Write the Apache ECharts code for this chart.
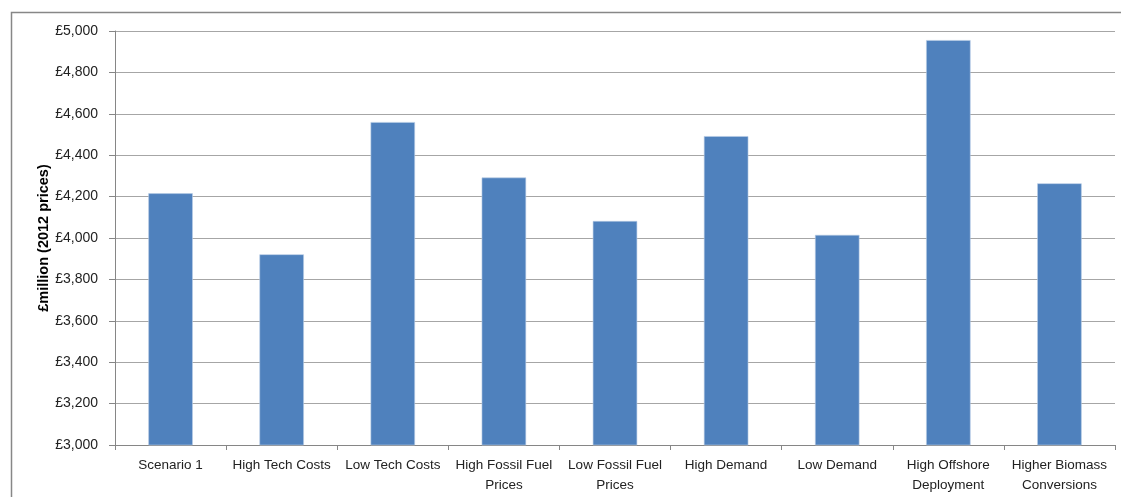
<!DOCTYPE html>
<html>
<head>
<meta charset="utf-8">
<script src="https://cdn.jsdelivr.net/npm/echarts@6/dist/echarts.min.js"></script>
<style>
html,body{margin:0;padding:0;background:#fff;}
#c{width:1121px;height:497px;}
</style>
</head>
<body>
<div id="c"></div>
<script>
var categories = ['Scenario 1','High Tech Costs','Low Tech Costs','High Fossil Fuel\nPrices','Low Fossil Fuel\nPrices','High Demand','Low Demand','High Offshore\nDeployment','Higher Biomass\nConversions'];
var values = [4216, 3921, 4560, 4292, 4082, 4492, 4015, 4956, 4264];
var yTitle = '£million (2012 prices)';

var chart = echarts.init(document.getElementById('c'));
var font = 'Liberation Sans, Arial, sans-serif';
chart.setOption({
  animation: false,
  backgroundColor: '#fff',
  graphic: [{
    type: 'rect', shape: {x: 11.5, y: 12.5, width: 1120, height: 500},
    style: {fill: 'none', stroke: '#878787', lineWidth: 1.5}
  }],
  grid: {left: 115, right: 6, top: 31, bottom: 52},
  xAxis: {
    type: 'category',
    data: categories,
    axisLine: {lineStyle: {color: '#868686'}},
    axisTick: {show: true, alignWithLabel: false, length: 5, lineStyle: {color: '#868686'}},
    axisLabel: {color: '#222', fontFamily: font, fontSize: 13.5, lineHeight: 20, margin: 10, interval: 0}
  },
  yAxis: {
    type: 'value', min: 3000, max: 5000, interval: 200,
    name: yTitle, nameLocation: 'middle', nameGap: 64, nameRotate: 90,
    nameMoveOverlap: false,
    nameTextStyle: {fontFamily: font, fontWeight: 'bold', fontSize: 14.5, color: '#000'},
    axisLine: {show: true, lineStyle: {color: '#868686'}},
    axisTick: {show: true, length: 6, lineStyle: {color: '#868686'}},
    splitLine: {lineStyle: {color: '#a6a6a6', width: 1}},
    axisLabel: {color: '#222', fontFamily: font, fontSize: 14, margin: 17,
      formatter: function(v){ return '£' + v.toLocaleString('en-GB'); }}
  },
  series: [{
    type: 'bar', data: values, barWidth: '40%',
    itemStyle: {color: '#4f81bd', borderColor: '#b9cde5', borderWidth: 0.6}
  }]
});
</script>
</body>
</html>
